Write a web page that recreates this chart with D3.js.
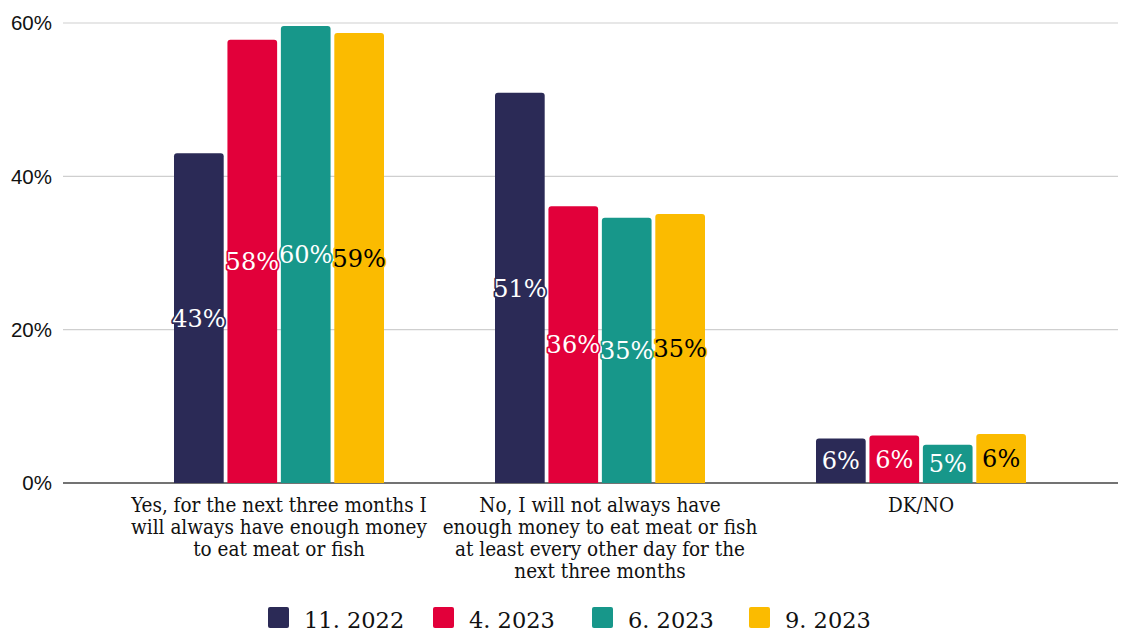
<!DOCTYPE html>
<html>
<head>
<meta charset="utf-8">
<script src="https://cdn.jsdelivr.net/npm/d3@7"></script>
<style>
  html, body { margin: 0; padding: 0; background: #fff; }
  svg { display: block; }
</style>
</head>
<body>
<svg id="chart" width="1128" height="633"></svg>
<script>
// Survey answers, one group per answer, one bar per wave
const categories = [
  "Yes, for the next three months I will always have enough money to eat meat or fish",
  "No, I will not always have enough money to eat meat or fish at least every other day for the next three months",
  "DK/NO"
];
const categoryLines = [
  ["Yes, for the next three months I", "will always have enough money", "to eat meat or fish"],
  ["No, I will not always have", "enough money to eat meat or fish", "at least every other day for the", "next three months"],
  ["DK/NO"]
];
const waves = ["11. 2022", "4. 2023", "6. 2023", "9. 2023"];
const colors = ["#2b2a56", "#e2003a", "#17978a", "#fbbb00"];
const labelInk = ["#ffffff", "#ffffff", "#ffffff", "#000000"];

// Share of respondents (%) per wave, in category order
const wave2022_11 = [43.0, 50.9, 5.8];
const wave2023_04 = [57.8, 36.1, 6.2];
const wave2023_06 = [59.6, 34.6, 5.0];
const wave2023_09 = [58.7, 35.1, 6.4];
const seriesValues = [wave2022_11, wave2023_04, wave2023_06, wave2023_09];

const yTicks = [0, 20, 40, 60];

const svg = d3.select("#chart");
const plot = { left: 63, right: 1118, top: 23, bottom: 483 };

const x0 = d3.scaleBand()
  .domain(categories)
  .range([118.5, 1081.5])
  .paddingInner(0)
  .paddingOuter(0);

const x1 = d3.scaleBand()
  .domain(waves)
  .range([0, 210])
  .paddingInner(0.07);

const y = d3.scaleLinear()
  .domain([0, 60])
  .range([plot.bottom, plot.top]);

// Grid lines
svg.append("g")
  .selectAll("line")
  .data(yTicks)
  .join("line")
  .attr("x1", plot.left)
  .attr("x2", plot.right)
  .attr("y1", d => y(d))
  .attr("y2", d => y(d))
  .attr("stroke", d => d === 0 ? "#444" : "#cfcfcf")
  .attr("stroke-width", d => d === 0 ? 1.5 : 1.2);

// Y axis labels
svg.append("g")
  .selectAll("text")
  .data(yTicks)
  .join("text")
  .attr("x", 52)
  .attr("y", d => y(d))
  .attr("dy", "0.35em")
  .attr("text-anchor", "end")
  .attr("font-family", "Liberation Sans, Arial, sans-serif")
  .attr("font-size", 20.5)
  .attr("fill", "#111")
  .text(d => d + "%");

// Bars and value labels
const groups = svg.append("g")
  .selectAll("g")
  .data(categories)
  .join("g")
  .attr("transform", c => `translate(${x0(c) + x0.bandwidth() / 2 - 105},0)`);

const rows = (c, ci) => waves.map((w, wi) => ({ w, wi, v: seriesValues[wi][ci] }));

groups.each(function (c, ci) {
  const g = d3.select(this);
  const data = rows(c, ci);
  g.selectAll("path")
    .data(data)
    .join("path")
    .attr("fill", d => colors[d.wi])
    .attr("d", d => {
      const x = x1(d.w), w = x1.bandwidth();
      const top = y(d.v), bot = y(0), r = 3;
      return `M${x},${bot}V${top + r}Q${x},${top} ${x + r},${top}H${x + w - r}Q${x + w},${top} ${x + w},${top + r}V${bot}Z`;
    });
  g.selectAll("text")
    .data(data)
    .join("text")
    .attr("x", d => x1(d.w) + x1.bandwidth() / 2)
    .attr("y", d => (y(d.v) + y(0)) / 2)
    .attr("dy", "0.36em")
    .attr("text-anchor", "middle")
    .attr("font-family", "DejaVu Serif, serif")
    .attr("font-size", 24)
    .attr("fill", d => labelInk[d.wi])
    .attr("stroke", d => colors[d.wi])
    .attr("stroke-width", 3.5)
    .attr("stroke-linejoin", "round")
    .attr("paint-order", "stroke")
    .text(d => d3.format(".0f")(d.v) + "%");
});

// Category labels
svg.append("g")
  .selectAll("text")
  .data(categories)
  .join("text")
  .attr("x", c => x0(c) + x0.bandwidth() / 2)
  .attr("y", 512)
  .attr("text-anchor", "middle")
  .attr("font-family", "DejaVu Serif, serif")
  .style("font-stretch", "condensed")
  .attr("font-size", 20.5)
  .attr("fill", "#111")
  .each(function (c, i) {
    d3.select(this).selectAll("tspan")
      .data(categoryLines[i])
      .join("tspan")
      .attr("x", x0(c) + x0.bandwidth() / 2)
      .attr("dy", (d, k) => k === 0 ? 0 : 22)
      .text(d => d);
  });

// Legend
const legendX = [268, 433, 592, 749];
const legend = svg.append("g")
  .selectAll("g")
  .data(waves)
  .join("g")
  .attr("transform", (w, i) => `translate(${legendX[i]},607)`);
legend.append("rect")
  .attr("width", 21)
  .attr("height", 21)
  .attr("rx", 2)
  .attr("fill", (w, i) => colors[i]);
legend.append("text")
  .attr("x", 36)
  .attr("y", 21)
  .attr("font-family", "DejaVu Serif, serif")
  .attr("font-size", 22.5)
  .attr("fill", "#111")
  .text(w => w);
</script>
</body>
</html>
